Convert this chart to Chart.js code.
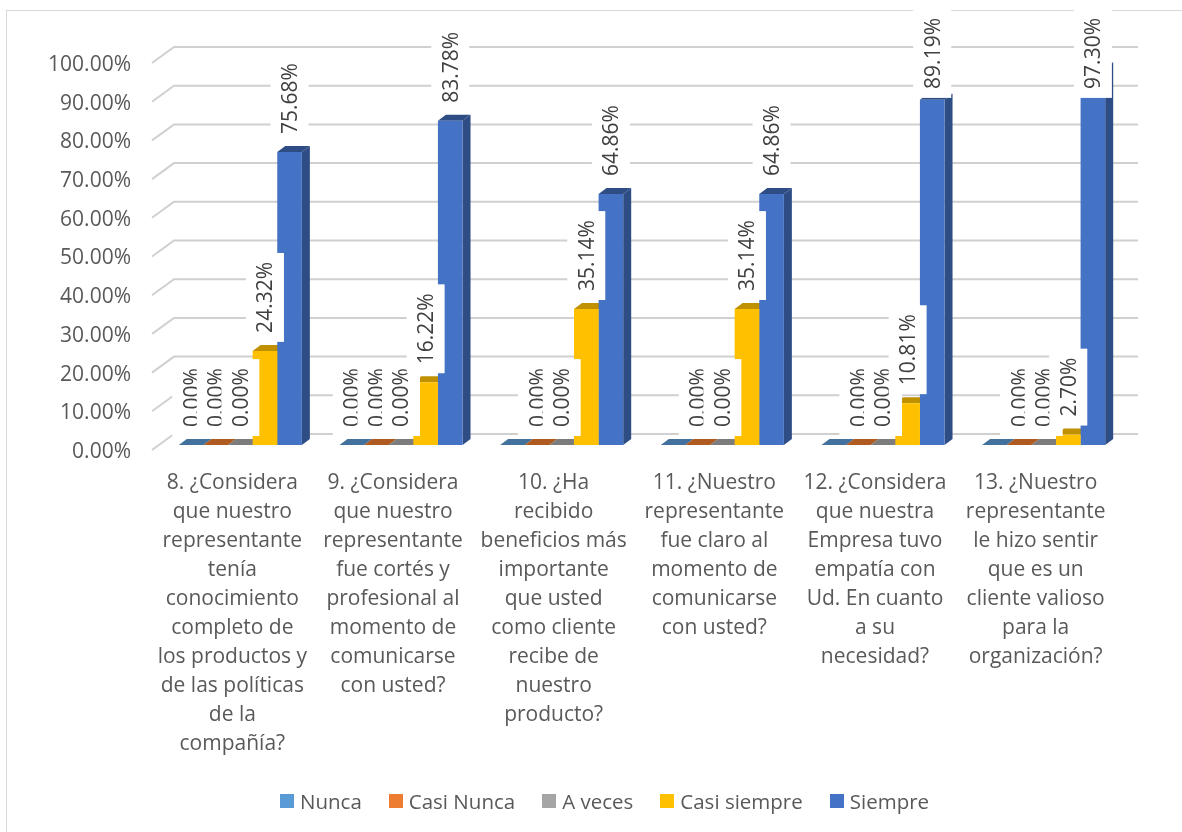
<!DOCTYPE html>
<html>
<head>
<meta charset="utf-8">
<title>Encuesta</title>
<script src="https://cdn.jsdelivr.net/npm/chart.js@4/dist/chart.umd.min.js"></script>
<style>
  body { margin: 0; background: #fff; }
  #wrap { position: relative; width: 1182px; height: 832px; overflow: hidden; }
  #legend {
    position: absolute; left: 280px; top: 787px;
    display: flex; font: 20.5px "Open Sans", sans-serif; color: #595959; line-height: 28px;
  }
  #legend .item { display: flex; align-items: center; margin-right: 27px; white-space: nowrap; }
  #legend .box { width: 14px; height: 14px; margin-right: 6px; }
</style>
</head>
<body>
<div id="wrap">
  <canvas id="chart" width="1182" height="832"></canvas>
  <div id="legend"></div>
</div>
<script>
const categories = [
  ['8. ¿Considera', 'que nuestro', 'representante', 'tenía', 'conocimiento', 'completo de', 'los productos y', 'de las políticas', 'de la', 'compañía?'],
  ['9. ¿Considera', 'que nuestro', 'representante', 'fue cortés y', 'profesional al', 'momento de', 'comunicarse', 'con usted?'],
  ['10. ¿Ha', 'recibido', 'beneficios más', 'importante', 'que usted', 'como cliente', 'recibe de', 'nuestro', 'producto?'],
  ['11. ¿Nuestro', 'representante', 'fue claro al', 'momento de', 'comunicarse', 'con usted?'],
  ['12. ¿Considera', 'que nuestra', 'Empresa tuvo', 'empatía con', 'Ud. En cuanto', 'a su', 'necesidad?'],
  ['13. ¿Nuestro', 'representante', 'le hizo sentir', 'que es un', 'cliente valioso', 'para la', 'organización?']
];
const nunca = [0, 0, 0, 0, 0, 0];
const casiNunca = [0, 0, 0, 0, 0, 0];
const aVeces = [0, 0, 0, 0, 0, 0];
const casiSiempre = [24.32, 16.22, 35.14, 35.14, 10.81, 2.70];
const siempre = [75.68, 83.78, 64.86, 64.86, 89.19, 97.30];
// la serie Nunca no lleva etiqueta en las ultimas cuatro preguntas
const nuncaLabels = [true, true, false, false, false, false];

const FONT = '"Open Sans", sans-serif';
// profundidad del efecto 3D
const DEPTH_X = 8, DEPTH_Y = 6;

function makeSeries(label, data, color, dark, labelsShown) {
  return { label: label, data: data, backgroundColor: color, darkColor: dark, borderWidth: 0, labelsShown: labelsShown };
}

// Marco, paredes de la rejilla y caras laterales de las barras
const depthPlugin = {
  id: 'depth',
  beforeDraw(chart) {
    const ctx = chart.ctx;
    ctx.save();
    ctx.strokeStyle = '#d9d9d9';
    ctx.lineWidth = 1;
    ctx.strokeRect(6.5, 10.5, 1180, 830);
    ctx.restore();
  },
  beforeDatasetsDraw(chart) {
    const ctx = chart.ctx;
    const y = chart.scales.y;
    const area = chart.chartArea;

    ctx.save();
    ctx.lineWidth = 2;
    y.ticks.forEach(t => {
      const py = y.getPixelForValue(t.value);
      ctx.strokeStyle = '#d0d0d0';
      ctx.beginPath();
      ctx.moveTo(area.left - 8, py + 5);
      ctx.lineTo(area.left + 14, py - 11);
      ctx.lineTo(area.right + 14, py - 11);
      ctx.stroke();
    });

    chart.data.datasets.forEach((ds, i) => {
      chart.getDatasetMeta(i).data.forEach(bar => {
        const left = bar.x - bar.width / 2;
        const right = bar.x + bar.width / 2;
        ctx.fillStyle = ds.darkColor;
        // cara superior
        ctx.beginPath();
        ctx.moveTo(left, bar.y);
        ctx.lineTo(left + DEPTH_X, bar.y - DEPTH_Y);
        ctx.lineTo(right + DEPTH_X, bar.y - DEPTH_Y);
        ctx.lineTo(right, bar.y);
        ctx.closePath();
        ctx.fill();
        // cara lateral
        ctx.beginPath();
        ctx.moveTo(right, bar.y);
        ctx.lineTo(right + DEPTH_X, bar.y - DEPTH_Y);
        ctx.lineTo(right + DEPTH_X, bar.base - DEPTH_Y);
        ctx.lineTo(right, bar.base);
        ctx.closePath();
        ctx.fill();
      });
    });
    ctx.restore();
  },
  // Etiquetas giradas con fondo blanco, en orden de serie
  afterDatasetsDraw(chart) {
    const ctx = chart.ctx;
    ctx.save();
    ctx.font = '21px ' + FONT;
    ctx.textAlign = 'center';
    ctx.textBaseline = 'middle';
    chart.data.datasets.forEach((ds, i) => {
      chart.getDatasetMeta(i).data.forEach((bar, j) => {
        if (ds.labelsShown && !ds.labelsShown[j]) return;
        const text = ds.data[j].toFixed(2) + '%';
        const len = ctx.measureText(text).width + 18;
        let cy = bar.y - 9 - len / 2;
        if (cy - len / 2 < 9) cy = 9 + len / 2;
        ctx.fillStyle = '#fff';
        ctx.fillRect(bar.x - 19, cy - len / 2, 38, len);
        ctx.save();
        ctx.translate(bar.x + 1.5, cy);
        ctx.rotate(-Math.PI / 2);
        ctx.fillStyle = '#404040';
        ctx.fillText(text, 0, 0);
        ctx.restore();
      });
    });
    ctx.restore();
  }
};

const chart = new Chart(document.getElementById('chart'), {
  type: 'bar',
  data: {
    labels: categories,
    datasets: [
      makeSeries('Nunca', nunca, '#5b9bd5', '#41719c', nuncaLabels),
      makeSeries('Casi Nunca', casiNunca, '#ed7d31', '#ae5a21'),
      makeSeries('A veces', aVeces, '#a5a5a5', '#7c7c7c'),
      makeSeries('Casi siempre', casiSiempre, '#ffc000', '#bf9000'),
      makeSeries('Siempre', siempre, '#4472c4', '#2f4d85')
    ]
  },
  options: {
    responsive: false,
    animation: false,
    layout: { padding: { top: 58, right: 58 } },
    datasets: { bar: { categoryPercentage: 0.766, barPercentage: 1 } },
    plugins: { legend: { display: false }, tooltip: { enabled: false } },
    scales: {
      x: {
        grid: { display: false, drawTicks: false },
        border: { display: false },
        afterFit(scale) { scale.height = 387; },
        ticks: {
          autoSkip: false,
          maxRotation: 0,
          padding: 24,
          labelOffset: -8,
          color: '#595959',
          font: { family: FONT, size: 21, lineHeight: 1.38 }
        }
      },
      y: {
        min: 0,
        max: 100,
        grid: { display: false, drawTicks: false },
        border: { display: false },
        afterFit(scale) { scale.width = 160; },
        ticks: {
          stepSize: 10,
          autoSkip: false,
          padding: 29,
          labelOffset: 7,
          color: '#595959',
          font: { family: FONT, size: 21 },
          callback: value => value.toFixed(2) + '%'
        }
      }
    }
  },
  plugins: [depthPlugin]
});

// Leyenda
const legend = document.getElementById('legend');
chart.data.datasets.forEach(ds => {
  const item = document.createElement('div');
  item.className = 'item';
  item.innerHTML = `<span class="box" style="background:${ds.backgroundColor}"></span>${ds.label}`;
  legend.appendChild(item);
});
</script>
</body>
</html>
